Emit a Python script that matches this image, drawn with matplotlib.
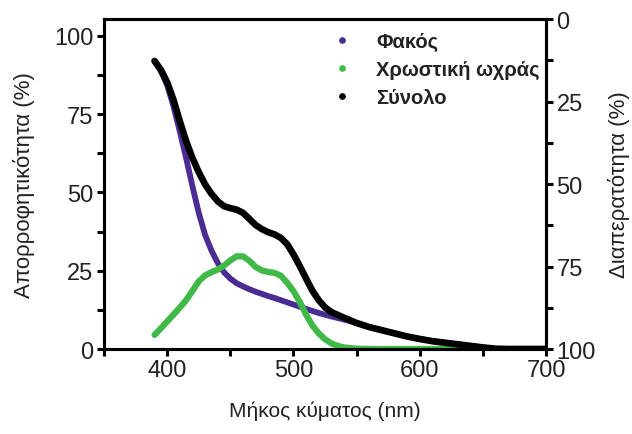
import matplotlib.pyplot as plt
from matplotlib.lines import Line2D
from matplotlib.ticker import MultipleLocator

plt.rcParams['font.family'] = ['Liberation Sans', 'DejaVu Sans']

# Wavelengths (nm) and absorbance (%)
wl_lens = [390, 395, 400, 405, 410, 415, 420, 425, 430, 435, 440, 445, 450,
           455, 460, 465, 470, 475, 480, 485, 490, 495, 500, 505, 510, 520,
           530, 540, 550, 560, 570, 580, 590, 600, 610, 620, 630, 640, 650]
lens = [92, 88.8, 84.3, 77.5, 69.5, 61, 52, 43.5, 36.5, 31.5, 27.5, 24.5, 22.5,
        21, 20, 19.1, 18.3, 17.6, 16.9, 16.3, 15.6, 14.9, 14.2, 13.5, 12.8, 11.5,
        10.4, 9.4, 8.3, 7.0, 6.0, 5.0, 4.0, 3.2, 2.5, 2.0, 1.5, 1.0, 0.5]

wl_pigment = [390, 395, 400, 405, 410, 415, 420, 425, 430, 435, 440, 445, 450,
              455, 460, 465, 470, 475, 480, 485, 490, 495, 500, 505, 510, 515,
              520, 525, 530, 535, 540, 550, 560, 600, 650]
pigment = [4.5, 6.6, 8.8, 11, 13.2, 15.6, 18.6, 21.6, 23.5, 24.5, 25.4, 26.6, 28.3,
           29.6, 29.6, 28.2, 26.2, 25.1, 24.6, 24.3, 23.4, 21.2, 18.5, 15, 11, 7.5,
           5, 3.1, 1.8, 1, 0.5, 0.1, 0, 0, 0]

wl_total = [390, 395, 400, 405, 410, 415, 420, 425, 430, 435, 440, 445, 450,
            455, 460, 465, 470, 475, 480, 485, 490, 495, 500, 505, 510, 515,
            520, 525, 530, 540, 550, 560, 570, 580, 590, 600, 610, 620, 630,
            640, 650, 660, 670, 680, 690, 700]
total = [92, 89.2, 85.2, 79.6, 72.8, 66.4, 61, 56.5, 52.6, 49.6, 47.2, 45.6, 45,
         44.5, 43.5, 41.6, 39.6, 38.3, 37.3, 36.6, 35.5, 33.5, 30.2, 26.5, 22.5, 18.6,
         15.6, 13.3, 11.8, 10, 8.3, 7.0, 6.0, 5.0, 4.0, 3.2, 2.5, 2.0, 1.5,
         1.0, 0.5, 0.1, 0, 0, 0, 0]

labels = ['Φακός', 'Χρωστική ωχράς', 'Σύνολο']
colors = ['#4a2c93', '#40b949', '#000000']

fig = plt.figure(figsize=(6.32, 4.35), dpi=100)
ax = fig.add_axes([0.1646, 0.1954, 0.6994, 0.7586])

style = dict(solid_capstyle='round', solid_joinstyle='round')
ax.plot(wl_lens, lens, color=colors[0], lw=4.2, **style)
ax.plot(wl_pigment, pigment, color=colors[1], lw=4.5, **style)
ax.plot(wl_total, total, color=colors[2], lw=4.8, **style)

ax.set_xlim(350, 700)
ax.set_ylim(0, 105.4)
ax.xaxis.set_major_locator(MultipleLocator(100))
ax.xaxis.set_minor_locator(MultipleLocator(50))
ax.yaxis.set_major_locator(MultipleLocator(25))
ax.yaxis.set_minor_locator(MultipleLocator(12.5))
ax.set_xticks([400, 500, 600, 700])

for s in ax.spines.values():
    s.set_linewidth(2.2)
ax.tick_params(which='both', direction='out', length=5, width=2.2,
               labelsize=17, colors='black', labelcolor='#222222', pad=2.5)

ax.set_xlabel('Μήκος κύματος (nm)', fontsize=15, labelpad=14, color='#222222')
ax.set_ylabel('Απορροφητικότητα (%)', fontsize=16, labelpad=14, color='#222222')

ax2 = ax.twinx()
ax2.set_ylim(100, 0)
ax2.yaxis.set_major_locator(MultipleLocator(25))
ax2.yaxis.set_minor_locator(MultipleLocator(12.5))
for s in ax2.spines.values():
    s.set_linewidth(2.2)
ax2.tick_params(which='both', direction='out', length=5, width=2.2,
                labelsize=17, labelcolor='#222222', pad=2.5)
ax2.set_ylabel('Διαπερατότητα (%)', fontsize=16, labelpad=9, color='#222222')

handles = [Line2D([], [], marker='o', linestyle='none', markersize=3.8,
                  color=c) for c in colors]
leg = ax.legend(handles, labels, loc='upper left', bbox_to_anchor=(0.486, 1.0),
                frameon=False, handletextpad=1.2, labelspacing=0.45,
                handlelength=1.0, borderaxespad=0.25,
                prop={'weight': 'bold', 'size': 14.5})
for t in leg.get_texts():
    t.set_color('#222222')

fig.savefig('out.png', dpi=100)
